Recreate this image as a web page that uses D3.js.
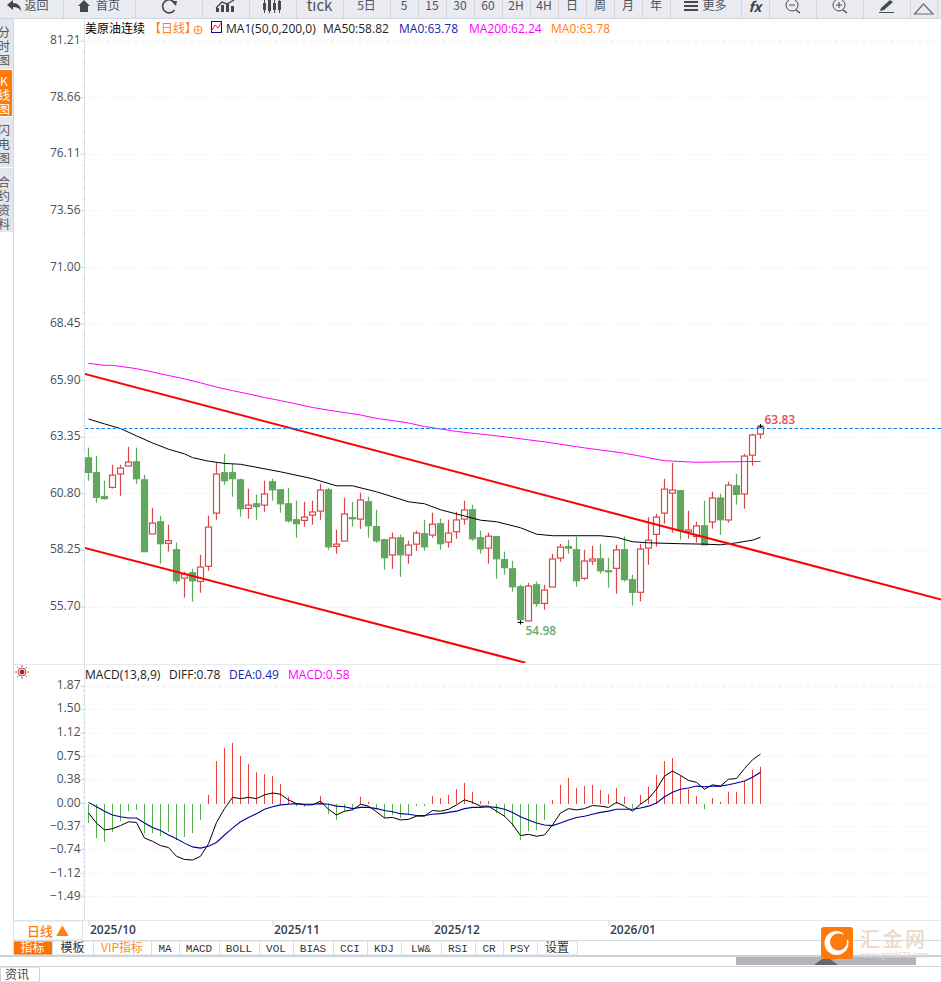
<!DOCTYPE html>
<html>
<head>
<meta charset="utf-8">
<title>美原油连续</title>
<script src="https://cdn.jsdelivr.net/npm/d3@7/dist/d3.min.js"></script>
<style>
	html, body { margin: 0; padding: 0; background: #fff; }
	svg { display: block; }
	text { font-family: "Noto Sans CJK SC", "Noto Sans", sans-serif; }
	.num { font-family: "Open Sans", "Noto Sans", sans-serif; }
	.grid { stroke: #e9e9e9; stroke-width: 1; stroke-dasharray: 1.5 3; }
</style>
</head>
<body>
<svg id="chart" width="941" height="982"></svg>
<script>
const opens = [62.40,61.73,60.66,61.07,61.67,62.03,62.22,61.41,58.97,59.52,
	58.55,58.26,56.98,57.22,56.83,57.51,59.91,61.73,61.73,61.41,
	60.12,60.33,60.27,61.32,60.96,60.33,59.61,59.58,59.82,60.00,
	60.96,58.41,58.65,59.70,59.64,60.42,59.30,58.71,58.02,58.80,
	58.02,58.51,58.98,58.92,59.43,58.60,59.07,59.64,60.06,58.80,
	58.33,58.85,57.81,57.40,56.59,55.05,56.68,55.84,56.58,57.88,
	58.40,58.26,56.97,57.75,57.85,57.31,57.42,58.26,56.91,56.34,
	58.33,58.95,59.91,60.81,60.92,59.07,58.85,59.34,59.51,60.59,
	59.60,61.14,60.77,62.52,63.47]
const highs = [62.86,62.49,61.37,62.09,62.09,62.90,62.86,61.64,60.15,59.79,
	59.39,58.58,57.27,57.40,58.03,59.79,62.18,62.58,62.13,61.46,
	61.01,60.74,61.37,61.46,60.99,61.05,60.47,60.42,60.47,61.23,
	61.05,59.16,60.60,60.42,60.83,60.65,60.06,58.75,59.03,58.94,
	58.66,59.12,59.61,59.93,59.66,59.61,59.97,60.47,60.29,59.12,
	59.03,58.89,58.17,57.76,56.68,56.77,56.82,56.68,58.08,58.52,
	58.71,58.85,58.26,58.44,58.53,57.90,58.49,58.85,57.13,58.52,
	59.73,59.88,61.46,62.18,60.96,60.02,59.52,60.47,60.87,60.78,
	61.32,61.68,62.58,63.49,63.83]
const lows = [61.37,60.38,60.51,61.02,60.69,62.03,61.23,58.17,58.97,57.63,
	58.17,56.73,56.10,55.92,56.32,57.31,59.61,61.19,60.65,59.75,
	59.66,59.61,59.97,60.47,59.93,59.48,58.80,59.30,59.39,59.61,
	58.26,58.08,58.65,59.30,59.20,58.80,58.57,57.36,57.40,57.04,
	57.63,58.21,58.21,58.80,58.26,58.35,58.75,59.39,58.66,58.08,
	57.63,56.95,57.13,56.37,54.98,55.05,55.69,55.56,56.58,57.72,
	58.08,56.59,56.89,57.58,57.18,56.55,56.28,56.82,55.74,55.93,
	57.58,58.40,59.43,59.03,58.71,58.76,58.58,58.48,59.21,58.93,
	59.48,60.29,60.11,62.04,63.26]
const closes = [61.74,60.62,60.56,61.62,61.94,62.21,61.46,58.17,59.46,58.53,
	58.67,56.86,57.16,56.86,57.48,59.28,61.67,61.37,61.46,60.11,
	60.27,60.20,60.77,60.96,60.33,59.56,59.43,59.73,59.96,60.95,
	58.39,58.51,59.87,59.66,60.50,59.34,58.66,57.90,58.79,58.03,
	58.47,59.01,58.39,59.41,58.53,59.01,59.60,60.05,58.75,58.30,
	58.87,57.85,57.45,56.59,55.11,56.62,55.83,56.44,57.84,58.38,
	58.33,56.86,57.75,57.84,57.31,57.28,58.25,56.91,56.34,58.29,
	58.69,59.73,60.99,60.95,59.12,59.15,59.33,58.48,60.59,59.61,
	61.17,60.75,62.48,63.43,63.78]

// moving averages, read at the candles where the curve could be read
const ma50Index = [0,2,4,6,8,10,12,13,15,17,19,24,28,31,33,36,40,42,44,49,51,54,56,58,61,64,66,68,70,74,77,79,81,83,84]
const ma50Value = [64.15,63.93,63.72,63.39,63.07,62.79,62.58,62.41,62.25,62.15,62.11,61.77,61.46,61.14,61.14,60.87,60.42,60.33,60.06,59.59,59.52,59.25,58.96,58.89,58.89,58.89,58.82,58.62,58.57,58.53,58.51,58.48,58.57,58.69,58.82]
const ma200Index = [0,2,3,6,8,10,12,14,16,18,20,22,24,26,28,30,32,34,36,38,40,42,44,46,52,57,62,67,72,76,84]
const ma200Value = [66.66,66.57,66.57,66.42,66.27,66.11,65.96,65.78,65.59,65.43,65.28,65.12,64.98,64.83,64.67,64.55,64.44,64.33,64.18,64.08,63.97,63.81,63.70,63.59,63.35,63.12,62.85,62.61,62.27,62.20,62.24]

// hand drawn channel lines: bar position, price
const trendUpperIndex = [-0.55, 106.6]
const trendUpperValue = [66.19, 56.01]
const trendLowerIndex = [-0.55, 54.6]
const trendLowerValue = [58.35, 53.17]
const lastPrice = 63.78

const macdBars = [-0.32,-0.56,-0.62,-0.46,-0.29,-0.13,-0.11,-0.49,-0.48,-0.53,
	-0.46,-0.59,-0.54,-0.48,-0.27,0.13,0.67,0.88,0.96,0.75,
	0.62,0.49,0.46,0.43,0.30,0.10,-0.05,-0.06,-0.03,0.11,
	-0.18,-0.27,-0.14,-0.10,0.10,0.02,-0.10,-0.24,-0.19,-0.24,
	-0.19,-0.05,-0.05,0.11,0.08,0.13,0.22,0.32,0.18,0.03,
	0.03,-0.16,-0.22,-0.37,-0.59,-0.45,-0.43,-0.27,0.05,0.29,
	0.40,0.24,0.27,0.29,0.21,0.14,0.24,0.10,-0.08,0.13,
	0.26,0.45,0.67,0.72,0.43,0.22,0.11,-0.10,0.08,0.02,
	0.18,0.18,0.35,0.53,0.58]
const diff = [-0.16,-0.32,-0.43,-0.41,-0.36,-0.30,-0.31,-0.56,-0.61,-0.68,
	-0.71,-0.85,-0.90,-0.91,-0.85,-0.65,-0.31,-0.09,0.09,0.07,
	0.09,0.07,0.13,0.16,0.14,0.05,-0.01,-0.03,-0.03,0.03,
	-0.10,-0.19,-0.13,-0.11,-0.02,-0.05,-0.14,-0.24,-0.23,-0.27,
	-0.26,-0.21,-0.21,-0.12,-0.13,-0.10,-0.03,0.05,0.01,-0.05,
	-0.05,-0.13,-0.21,-0.34,-0.52,-0.50,-0.53,-0.51,-0.35,-0.16,
	-0.09,-0.11,-0.09,-0.04,-0.05,-0.07,0.01,-0.05,-0.13,-0.02,
	0.07,0.22,0.43,0.51,0.44,0.36,0.33,0.22,0.29,0.27,
	0.38,0.39,0.55,0.69,0.78]
const dea = [0.01,-0.06,-0.13,-0.19,-0.22,-0.24,-0.24,-0.32,-0.39,-0.44,
	-0.51,-0.57,-0.64,-0.70,-0.72,-0.69,-0.63,-0.51,-0.40,-0.30,
	-0.23,-0.17,-0.10,-0.06,-0.03,-0.02,-0.01,-0.02,-0.02,-0.01,
	-0.02,-0.05,-0.06,-0.09,-0.07,-0.07,-0.09,-0.12,-0.14,-0.17,
	-0.18,-0.20,-0.20,-0.18,-0.17,-0.15,-0.13,-0.09,-0.07,-0.07,
	-0.06,-0.07,-0.10,-0.15,-0.22,-0.27,-0.32,-0.35,-0.36,-0.32,
	-0.27,-0.23,-0.21,-0.18,-0.15,-0.13,-0.10,-0.10,-0.10,-0.08,
	-0.05,0.00,0.10,0.17,0.22,0.24,0.27,0.26,0.27,0.27,
	0.29,0.32,0.35,0.41,0.49]

const priceTicks = [81.21,78.66,76.11,73.56,71.00,68.45,65.90,63.35,60.80,58.25,55.70]
const macdTicks = [1.87,1.50,1.12,0.75,0.38,0.00,-0.37,-0.74,-1.12,-1.49]
const monthIndex = [0,23,43,65]
const monthLabels = ['2025/10','2025/11','2025/12','2026/01']

const toolButtons = [['返回',63],['首页',135],['',202],['',249],['',296],['tick',343],['5日',390],['5',418],['15',446],['30',474],['60',502],['2H',530],['4H',558],['日',586],['周',614],['月',642],['年',670],['更多',741],['',769],['',816],['',863],['',910],['',937]]
const sideTabs = [['分时图',25,69,37],['K线图',70,116,86],['闪电图',118,167,135],['合约资料',169,232,187]]
const bottomTabs = [['指标',13,52],['模板',52,93],['VIP指标',93,151],['MA',151,179],['MACD',179,219],['BOLL',219,259],['VOL',259,293],['BIAS',293,333],['CCI',333,367],['KDJ',367,401],['LW&',401,441],['RSI',441,475],['CR',475,503],['PSY',503,537],['设置',537,577]]

const svg = d3.select('#chart')
const x = d3.scaleLinear().domain([0, 84]).range([88.5, 760.5])
const yPrice = d3.scaleLinear().domain([81.21, 55.70]).range([40.5, 606.5])
const yMacd = d3.scaleLinear().domain([1.87, -1.49]).range([685.8, 896.4])

const RED = '#d9474b'
const GREEN = '#62a75e'

function drawGrid(g, scale, ticks) {
	g.selectAll('line').data(ticks).join('line')
		.attr('class', 'grid')
		.attr('x1', 85).attr('x2', 941)
		.attr('y1', d => Math.round(scale(d)) + 0.5)
		.attr('y2', d => Math.round(scale(d)) + 0.5)
		.style('stroke', (d, i) => i === 0 ? '#eeeeee' : null)
		.style('stroke-dasharray', (d, i) => i === 0 ? '4 3' : null)
}

function drawAxis(scale, ticks, fmt) {
	const g = svg.append('g').attr('transform', 'translate(84.5,0)')
	const axis = d3.axisLeft(scale).tickValues(ticks).tickSize(4).tickPadding(0)
		.tickFormat(d => d3.format(fmt)(d))
	g.call(axis)
	g.select('.domain').remove()
	g.selectAll('line').attr('stroke', '#cfd6e0')
	g.selectAll('text').attr('class', 'num').attr('fill', '#4a4f5c').attr('font-size', 12).attr('dy', '0.25em')

	// small ticks between the labelled ones
	const step = (ticks[0] - ticks[1]) / 5
	const minor = d3.range(ticks.length * 5 - 4).map(i => ticks[0] - i * step).filter(d => scale(d) < scale.range()[1])
	const mg = svg.append('g').attr('transform', 'translate(84.5,0)')
	mg.call(d3.axisLeft(scale).tickValues(minor).tickSize(2).tickFormat(''))
	mg.select('.domain').remove()
	mg.selectAll('line').attr('stroke', '#d5dbe4')
}

function drawToolbar() {
	const bar = svg.append('g')
	bar.append('rect').attr('width', 941).attr('height', 18).attr('fill', '#e9ebf1')
	bar.append('line').attr('x1', 0).attr('x2', 941).attr('y1', 18.5).attr('y2', 18.5).attr('stroke', '#d2d5db')
	let left = 0
	toolButtons.forEach(([label, right]) => {
		bar.append('line').attr('x1', right + 0.5).attr('x2', right + 0.5).attr('y1', 0).attr('y2', 18).attr('stroke', '#d2d4da')
		if (label) {
			let cx = (left + right) / 2
			if (label === '返回') cx += 5
			if (label === '首页') cx += 9
			if (label === '更多') cx += 9
			bar.append('text').attr('x', cx).attr('y', label === 'tick' ? 11 : 10)
				.attr('text-anchor', 'middle')
				.attr('font-size', label === 'tick' ? 15 : 12)
				.attr('fill', '#50535c')
				.text(label)
		}
		left = right
	})
	const ink = '#454850'
	// back arrow, home
	bar.append('path').attr('d', 'M7 5 L13 0 V3 C18 3 21 6 21 11 C19 8 17 7 13 7 V10 Z').attr('fill', ink)
	bar.append('path').attr('d', 'M78 6 L84 0 L90 6 H88 V12 H80 V6 Z').attr('fill', ink)
	// refresh
	bar.append('path').attr('d', 'M174 2 A6.5 6.5 0 1 0 174.500 10').attr('fill', 'none').attr('stroke', ink).attr('stroke-width', 1.6)
	bar.append('path').attr('d', 'M171 1 L177 1 L176 6 Z').attr('fill', ink)
	// bar icons
	bar.append('path').attr('d', 'M216 12 V8 h3 v4 Z M221 12 V5 h3 v7 Z M226 12 V3 h3 v9 Z M231 12 V6 h3 v6 Z').attr('fill', ink)
	bar.append('path').attr('d', 'M216 8 L222 2 L227 4 L234 0').attr('fill', 'none').attr('stroke', ink).attr('stroke-width', 1.4)
	bar.append('path').attr('d', 'M263 3 h3 v7 h-3 Z M268 0 h3 v11 h-3 Z M273 3 h3 v7 h-3 Z M278 1 h3 v9 h-3 Z').attr('fill', ink)
	bar.append('path').attr('d', 'M264.500 0 V13 M269.500 0 V13 M274.500 0 V13 M279.500 0 V13').attr('stroke', ink)
	// more, fx
	bar.append('path').attr('d', 'M684 2 H698 M684 6 H698 M684 10 H698').attr('stroke', ink).attr('stroke-width', 2)
	bar.append('text').attr('x', 755).attr('y', 12).attr('text-anchor', 'middle').attr('font-size', 14).attr('font-weight', 'bold').attr('font-style', 'italic').attr('fill', '#3e4148').text('fx')
	// zoom out, zoom in
	;[[792, '-'], [839, '+']].forEach(([cx, sign]) => {
		bar.append('circle').attr('cx', cx).attr('cy', 5).attr('r', 6).attr('fill', 'none').attr('stroke', ink)
		bar.append('line').attr('x1', cx + 4).attr('x2', cx + 8).attr('y1', 10).attr('y2', 13).attr('stroke', ink).attr('stroke-width', 1.4)
		bar.append('line').attr('x1', cx - 3).attr('x2', cx + 3).attr('y1', 5).attr('y2', 5).attr('stroke', ink)
		if (sign === '+') bar.append('line').attr('x1', cx).attr('x2', cx).attr('y1', 2).attr('y2', 8).attr('stroke', ink)
	})
	// pen and triangle
	bar.append('path').attr('d', 'M881 8 L890 0 L893 2 L884 10 L880 11 Z').attr('fill', ink)
	bar.append('line').attr('x1', 879).attr('x2', 894).attr('y1', 12.500).attr('y2', 12.500).attr('stroke', ink)
	bar.append('path').attr('d', 'M914.500 14 L923.500 4 L933 14 Z').attr('fill', 'none').attr('stroke', '#6a6d75').attr('stroke-width', 1.2)
}

function drawSidebar() {
	const side = svg.append('g')
	side.append('rect').attr('y', 19).attr('width', 13).attr('height', 213).attr('fill', '#e4e6ee')
	side.append('line').attr('x1', 13.5).attr('x2', 13.5).attr('y1', 19).attr('y2', 957).attr('stroke', '#cfd6e0')
	sideTabs.forEach(([label, top, bottom, base]) => {
		const on = label === 'K线图'
		side.append('rect').attr('y', top).attr('width', 12).attr('height', bottom - top)
			.attr('fill', on ? '#ff7a0d' : '#e4e6ee')
		const t = side.append('text').attr('font-size', 12).attr('text-anchor', 'middle')
			.attr('fill', on ? '#fff' : '#555')
		label.split('').forEach((ch, i) => {
			t.append('tspan').attr('x', 4).attr('y', base + i * 14).text(ch)
		})
		side.append('line').attr('x1', 0).attr('x2', 13).attr('y1', bottom + 0.5).attr('y2', bottom + 0.5).attr('stroke', '#fff')
	})
}

function drawCandles() {
	const g = svg.append('g').attr('clip-path', 'url(#mainClip)')
	const bars = d3.range(closes.length)
	const isUp = i => closes[i] >= opens[i]
	const colour = i => isUp(i) ? RED : GREEN
	g.selectAll('line.wick').data(bars).join('line')
		.attr('class', 'wick')
		.attr('x1', x).attr('x2', x)
		.attr('y1', i => yPrice(highs[i]))
		.attr('y2', i => yPrice(lows[i]))
		.attr('stroke', colour).attr('stroke-width', 1.2)
	g.selectAll('rect.body').data(bars).join('rect')
		.attr('class', 'body')
		.attr('x', i => x(i) - 3)
		.attr('width', 6)
		.attr('y', i => yPrice(Math.max(opens[i], closes[i])))
		.attr('height', i => Math.max(1, Math.abs(yPrice(opens[i]) - yPrice(closes[i]))))
		.attr('fill', i => isUp(i) ? '#fff' : GREEN)
		.attr('stroke', colour).attr('stroke-width', 1.2)
}

function drawPriceLines() {
	const g = svg.append('g').attr('clip-path', 'url(#mainClip)')
	const lineOf = d3.line().x(d => x(d[0])).y(d => yPrice(d[1]))
	g.append('path').attr('d', lineOf(d3.zip(ma50Index, ma50Value)))
		.attr('fill', 'none').attr('stroke', '#000').attr('stroke-width', 1)
	g.append('path').attr('d', lineOf(d3.zip(ma200Index, ma200Value)))
		.attr('fill', 'none').attr('stroke', '#ff00ff').attr('stroke-width', 1)
	;[[trendUpperIndex, trendUpperValue], [trendLowerIndex, trendLowerValue]].forEach(([idx, val]) => {
		g.append('path').attr('d', lineOf(d3.zip(idx, val)))
			.attr('fill', 'none').attr('stroke', '#ff0000').attr('stroke-width', 2)
	})
	g.append('line').attr('x1', 85).attr('x2', 941)
		.attr('y1', Math.round(yPrice(lastPrice)) + 1.5).attr('y2', Math.round(yPrice(lastPrice)) + 1.5)
		.attr('stroke', '#0a84f0').attr('stroke-width', 1.2).attr('stroke-dasharray', '3.5 2')

	// highest and lowest marks
	const hi = highs.indexOf(d3.max(highs))
	const lo = lows.indexOf(d3.min(lows))
	;[[hi, highs[hi]], [lo, lows[lo]]].forEach(([i, p]) => {
		g.append('path').attr('d', `M${x(i) - 3} ${yPrice(p)} h6 M${x(i)} ${yPrice(p) - 2} v4`).attr('stroke', '#000').attr('stroke-width', 1)
	})
	g.append('text').attr('class', 'num').attr('x', x(hi) + 4).attr('y', yPrice(highs[hi]) - 2)
		.attr('font-size', 12).attr('font-weight', 600).attr('fill', '#d9534f').text(highs[hi].toFixed(2))
	g.append('text').attr('class', 'num').attr('x', x(lo) + 5).attr('y', yPrice(lows[lo]) + 13)
		.attr('font-size', 12).attr('font-weight', 600).attr('fill', '#6fa86f').text(lows[lo].toFixed(2))
}

function drawMacd() {
	const g = svg.append('g')
	g.selectAll('line.bar').data(macdBars).join('line')
		.attr('class', 'bar')
		.attr('x1', (d, i) => x(i)).attr('x2', (d, i) => x(i))
		.attr('y1', yMacd(0) + 1).attr('y2', d => yMacd(d))
		.attr('stroke', d => d >= 0 ? '#e8413c' : '#58b04f').attr('stroke-width', 1)
	const lineOf = d3.line().x((d, i) => x(i)).y(d => yMacd(d))
	g.append('path').attr('d', lineOf(diff)).attr('fill', 'none').attr('stroke', '#000').attr('stroke-width', 1)
	g.append('path').attr('d', lineOf(dea)).attr('fill', 'none').attr('stroke', '#00009c').attr('stroke-width', 1.1)
}

function drawHeaders() {
	const top = [['美原油连续',85,'#000',0],['【日线】',149,'#ff7f0e',0],['MA1(50,0,200,0)',226,'#222',1],['MA50:58.82',323,'#222',1],['MA0:63.78',399,'#1428b0',1],['MA200:62.24',469,'#ff00ff',1],['MA0:63.78',551,'#ff7f0e',1]]
	top.forEach(([t, tx, c, latin]) => {
		svg.append('text').attr('class', latin ? 'num' : null).attr('x', tx).attr('y', 33).attr('font-size', 12).attr('fill', c).text(t)
	})
	const lower = [['MACD(13,8,9)',85,'#222'],['DIFF:0.78',169,'#222'],['DEA:0.49',229,'#1428b0'],['MACD:0.58',288,'#ff00ff']]
	lower.forEach(([t, tx, c]) => {
		svg.append('text').attr('class', 'num').attr('x', tx).attr('y', 679).attr('font-size', 12).attr('fill', c).text(t)
	})
	// small icons in the header
	svg.append('circle').attr('cx', 198).attr('cy', 30).attr('r', 4).attr('fill', 'none').attr('stroke', '#ff8a1e')
	svg.append('path').attr('d', 'M194 30 H202 M198 26 V34').attr('stroke', '#ff8a1e').attr('stroke-width', 0.8)
	svg.append('rect').attr('x', 211.5).attr('y', 21.5).attr('width', 10).attr('height', 11).attr('fill', '#fff').attr('stroke', '#101080')
	svg.append('path').attr('d', 'M212 30 L215 25 L218 28 L221 23').attr('fill', 'none').attr('stroke', '#e02020')
	// red sun icon next to the macd pane
	svg.append('circle').attr('cx', 22).attr('cy', 672).attr('r', 2.5).attr('fill', '#e01010')
	svg.append('circle').attr('cx', 22).attr('cy', 672).attr('r', 4).attr('fill', 'none').attr('stroke', '#333').attr('stroke-width', 0.7)
	d3.range(8).forEach(k => {
		const a = k * Math.PI / 4
		svg.append('line')
			.attr('x1', 22 + 5 * Math.cos(a)).attr('y1', 672 + 5 * Math.sin(a))
			.attr('x2', 22 + 7 * Math.cos(a)).attr('y2', 672 + 7 * Math.sin(a))
			.attr('stroke', '#e01010').attr('stroke-width', 0.8)
	})
}

function drawBottom() {
	const b = svg.append('g')
	b.append('line').attr('x1', 13).attr('x2', 941).attr('y1', 920.5).attr('y2', 920.5).attr('stroke', '#e3e9ef')
	b.append('line').attr('x1', 13).attr('x2', 941).attr('y1', 940.5).attr('y2', 940.5).attr('stroke', '#d3dbe3')
	b.append('line').attr('x1', 0).attr('x2', 941).attr('y1', 956).attr('y2', 956).attr('stroke', '#c9d2da').attr('stroke-width', 2)
	b.append('line').attr('x1', 0).attr('x2', 941).attr('y1', 966.5).attr('y2', 966.5).attr('stroke', '#cbd3db')
	b.append('rect').attr('x', 736).attr('y', 957).attr('width', 180).attr('height', 8).attr('fill', '#b3b3b9')
	b.append('path').attr('d', 'M814 965 L822 959 H830 L838 965 Z').attr('fill', '#66676c')

	// date axis
	const ag = b.append('g').attr('transform', 'translate(0,920.5)')
	ag.call(d3.axisBottom(x).tickValues(monthIndex).tickSize(5).tickPadding(2).tickFormat((d, i) => monthLabels[i]))
	ag.select('.domain').remove()
	ag.selectAll('line').attr('stroke', '#c8d0da')
	ag.selectAll('text').attr('class', 'num').attr('font-size', 12).attr('font-weight', 600)
		.attr('fill', '#333c4e').attr('text-anchor', 'start').attr('dx', 1).attr('y', 5)

	b.append('rect').attr('x', 13.5).attr('y', 921).attr('width', 69).attr('height', 19).attr('fill', '#fff').attr('stroke', '#d9e0e7')
	b.append('text').attr('x', 48).attr('y', 936).attr('text-anchor', 'middle').attr('font-size', 13).attr('font-weight', 500).attr('fill', '#ff7f0e').text('日线 ▲')

	bottomTabs.forEach(([label, l, r]) => {
		const on = label === '指标'
		b.append('rect').attr('x', l + 0.5).attr('y', 941).attr('width', r - l).attr('height', 14)
			.attr('fill', on ? '#ff7200' : '#fff').attr('stroke', '#d7dde3')
		const isCjk = /[\u4e00-\u9fff]/.test(label)
		b.append('text').attr('x', (l + r) / 2).attr('y', 952)
			.attr('text-anchor', 'middle')
			.attr('font-size', isCjk ? 12 : 11)
			.style('font-family', isCjk ? null : '"Liberation Mono", monospace')
			.attr('fill', on ? '#fff' : label === 'VIP指标' ? '#ff8a1e' : '#333')
			.text(label)
	})
	b.append('rect').attr('x', 0.5).attr('y', 967).attr('width', 39).attr('height', 15).attr('fill', '#fff').attr('stroke', '#ccd3da')
	b.append('text').attr('x', 5).attr('y', 979).attr('font-size', 12).attr('fill', '#444').text('资讯')

	// logo
	b.append('rect').attr('x', 821).attr('y', 927).attr('width', 32).attr('height', 32).attr('rx', 3).attr('fill', '#ff7a0d')
	b.append('circle').attr('cx', 836.5).attr('cy', 943).attr('r', 12).attr('fill', '#fff')
	b.append('circle').attr('cx', 838.5).attr('cy', 942).attr('r', 8.5).attr('fill', '#ff7a0d')
	b.append('path').attr('d', 'M842 931 L850 931 L850 941 L845 939 Z').attr('fill', '#ff7a0d')
	b.append('text').attr('x', 860).attr('y', 947).attr('font-size', 20).attr('font-weight', 500).attr('letter-spacing', 2.5).attr('fill', '#ebd8c6').text('汇金网')
	b.append('text').attr('x', 860).attr('y', 958).attr('font-size', 8).attr('fill', '#e3d6ca').text('www.gold678.com')
}

function draw() {
	svg.append('defs').append('clipPath').attr('id', 'mainClip')
		.append('rect').attr('x', 85).attr('y', 19).attr('width', 856).attr('height', 644)
	drawToolbar()
	drawSidebar()
	svg.append('g').call(drawGrid, yPrice, priceTicks)
	svg.append('g').call(drawGrid, yMacd, macdTicks)
	svg.append('line').attr('x1', 84.5).attr('x2', 84.5).attr('y1', 19).attr('y2', 920).attr('stroke', '#dbe2ea')
	svg.append('line').attr('x1', 14).attr('x2', 941).attr('y1', 664.5).attr('y2', 664.5).attr('stroke', '#e3e9ef')
	drawAxis(yPrice, priceTicks, '.2f')
	drawAxis(yMacd, macdTicks, '.2f')
	drawCandles()
	drawPriceLines()
	drawMacd()
	drawHeaders()
	drawBottom()
}

draw()
</script>
</body>
</html>
